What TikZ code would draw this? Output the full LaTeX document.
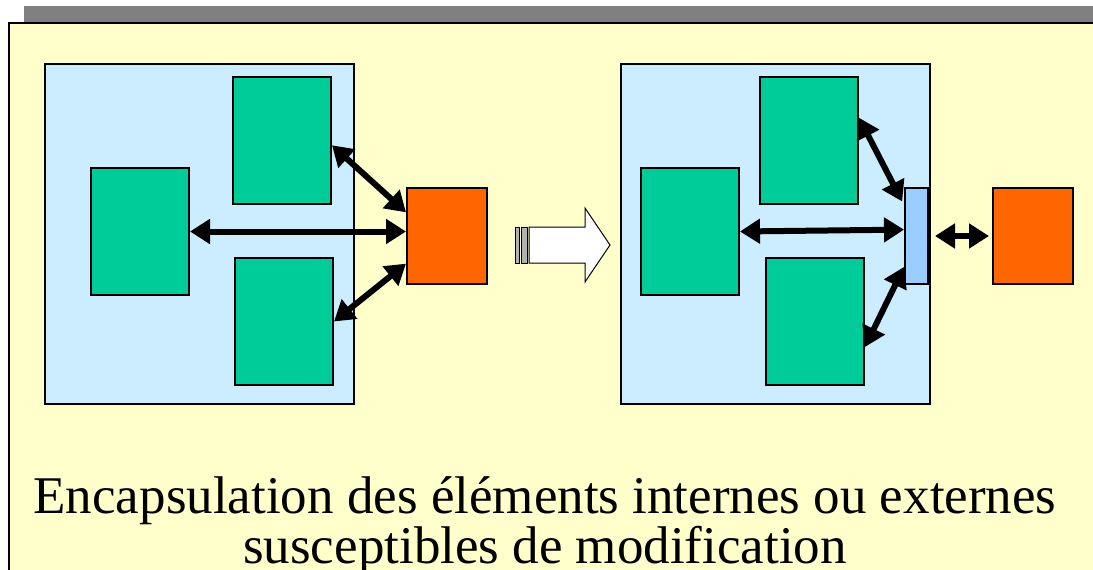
\documentclass[tikz,border=0pt]{standalone}
\usepackage{fontspec}
\setmainfont{Liberation Serif}
\usepackage{tikz}
\usetikzlibrary{positioning, arrows.meta, calc}
\definecolor{slideyellow}{HTML}{FFFFCC}
\definecolor{paneblue}{HTML}{CCECFF}
\definecolor{modgreen}{HTML}{00CC99}
\definecolor{extorange}{HTML}{FF6600}
\definecolor{barblue}{HTML}{99CCFF}
\tikzset{
  pane/.style   ={draw, line width=1.5pt, fill=paneblue, minimum width=309pt, minimum height=340pt, inner sep=0pt},
  module/.style ={draw, line width=2pt, fill=modgreen, minimum width=98pt, minimum height=127pt, inner sep=0pt},
  ext/.style    ={draw, line width=2pt, fill=extorange, minimum width=80pt, minimum height=96pt, inner sep=0pt},
  iface/.style  ={draw, line width=2pt, fill=barblue, minimum width=23pt, minimum height=96pt, inner sep=0pt},
  link/.style   ={{Triangle[length=20pt,width=24pt]}-{Triangle[length=20pt,width=24pt]}, line width=6pt},
  caption/.style={font=\fontsize{53}{45}\selectfont, align=center, inner sep=0pt},
}

\begin{document}
\begin{tikzpicture}[x=1pt, y=-1pt]
  \useasboundingbox (0,0) rectangle (1093,570);
  % slide background
  \fill[gray] (24,6) rectangle (1100,24);
  \draw[line width=2pt, fill=slideyellow] (9,23) rectangle (1110,590);

  % before
  \node[pane]   (PL) at (199.5,234) {};
  \node[module] (G1) at (140,231.5) {};
  \node[module] (G2) at (282,140) {};
  \node[module] (G3) at (284,321.5) {};
  \node[ext]    (O1) at (447,236) {};
  \draw[link] (G2.-6)  -- (O1.150);
  \draw[link] (G1.east) -- (G1.east -| O1.west);
  \draw[link] (G3.east) -- (O1.214);

  % transition arrow
  \draw[line width=1pt, fill=gray!60] (515,227) rectangle (519,263);
  \draw[line width=1pt, fill=gray!60] (521,227) rectangle (527,263);
  \draw[line width=1pt, fill=white] (529,227) -- (585,227) -- (585,208) -- (610,245)
     -- (585,282) -- (585,263) -- (529,263) -- cycle;

  % after
  \node[pane]   (PR) at (775.5,234) {};
  \node[module] (H1) at (690,231.5) {};
  \node[module] (H2) at (809,140) {};
  \node[module] (H3) at (815,321.5) {};
  \node[iface]  (B)  at (916.5,236) {};
  \node[ext]    (O2) at (1033,236) {};
  \draw[link, shorten >=4pt] (H2.24)  -- (B.112);
  \draw[link] (H1.east) -- (B.153);
  \draw[link] (H3.-27)  -- (B.248);
  \draw[link, shorten <=6pt, shorten >=3pt] (B.east) -- (O2.west);

  \node[caption, anchor=base] (T) at (545,563)
     {Encapsulation des éléments internes ou externes\\ susceptibles de modification};
\end{tikzpicture}
\end{document}
